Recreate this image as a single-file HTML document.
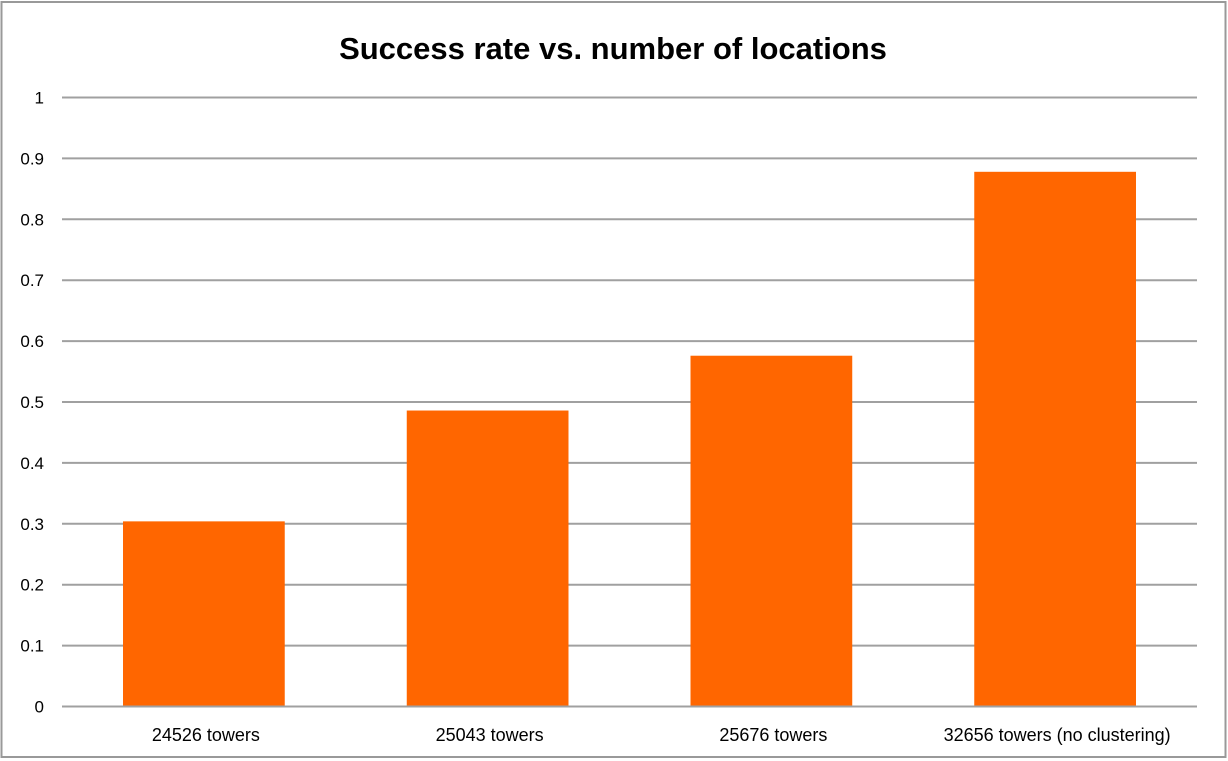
<!DOCTYPE html>
<html><head><meta charset="utf-8"><style>
html,body{margin:0;padding:0;background:#fff;}
svg{display:block;font-family:"Liberation Sans",sans-serif;}
</style></head><body>
<svg id="chart" width="1228" height="761">
<rect x="1.5" y="2" width="1224" height="755" fill="#fff" stroke="#999" stroke-width="2"/>
<text x="613" y="59" text-anchor="middle" font-size="31" font-weight="bold" fill="#000">Success rate vs. number of locations</text>
<g id="grid"></g><g id="bars"></g><g id="labels"></g>
</svg>
<script>
const categories = ["24526 towers","25043 towers","25676 towers","32656 towers (no clustering)"];
const values = [0.304, 0.486, 0.576, 0.878];
const yTicks = [0,0.1,0.2,0.3,0.4,0.5,0.6,0.7,0.8,0.9,1];
const yTickLabels = ["0","0.1","0.2","0.3","0.4","0.5","0.6","0.7","0.8","0.9","1"];
const NS="http://www.w3.org/2000/svg";
const x0=62,x1=1197,y0=706.5,y1=97.5;
const yScale=v=>y0-(y0-y1)*v;
const band=(x1-x0)/categories.length;
const xCenter=i=>x0+band*(i+0.5);
const bw=band*0.57;
const grid=document.getElementById('grid'),bars=document.getElementById('bars'),labels=document.getElementById('labels');
function mk(t,a,p){const e=document.createElementNS(NS,t);for(const k in a)e.setAttribute(k,a[k]);p.appendChild(e);return e;}
yTicks.forEach((v,i)=>{
  const l=mk('line',{x1:x0,x2:x1,y1:yScale(v),y2:yScale(v),stroke:'#a0a0a0','stroke-width':2},grid);
  
  
  const t=mk('text',{x:44,y:yScale(v)+6,'text-anchor':'end','font-size':17,fill:'#000'},labels);
  t.textContent=yTickLabels[i];
  
  
});
values.forEach((v,i)=>{
  const r=mk('rect',{x:xCenter(i)-bw/2,y:yScale(v),width:bw,height:yScale(0)-yScale(v)-1,fill:'#ff6600'},bars);
  
  
  const t=mk('text',{x:xCenter(i)+2,y:741,'text-anchor':'middle','font-size':18,fill:'#000'},labels);
  t.textContent=categories[i];
  
  
});
</script>
</body></html>
